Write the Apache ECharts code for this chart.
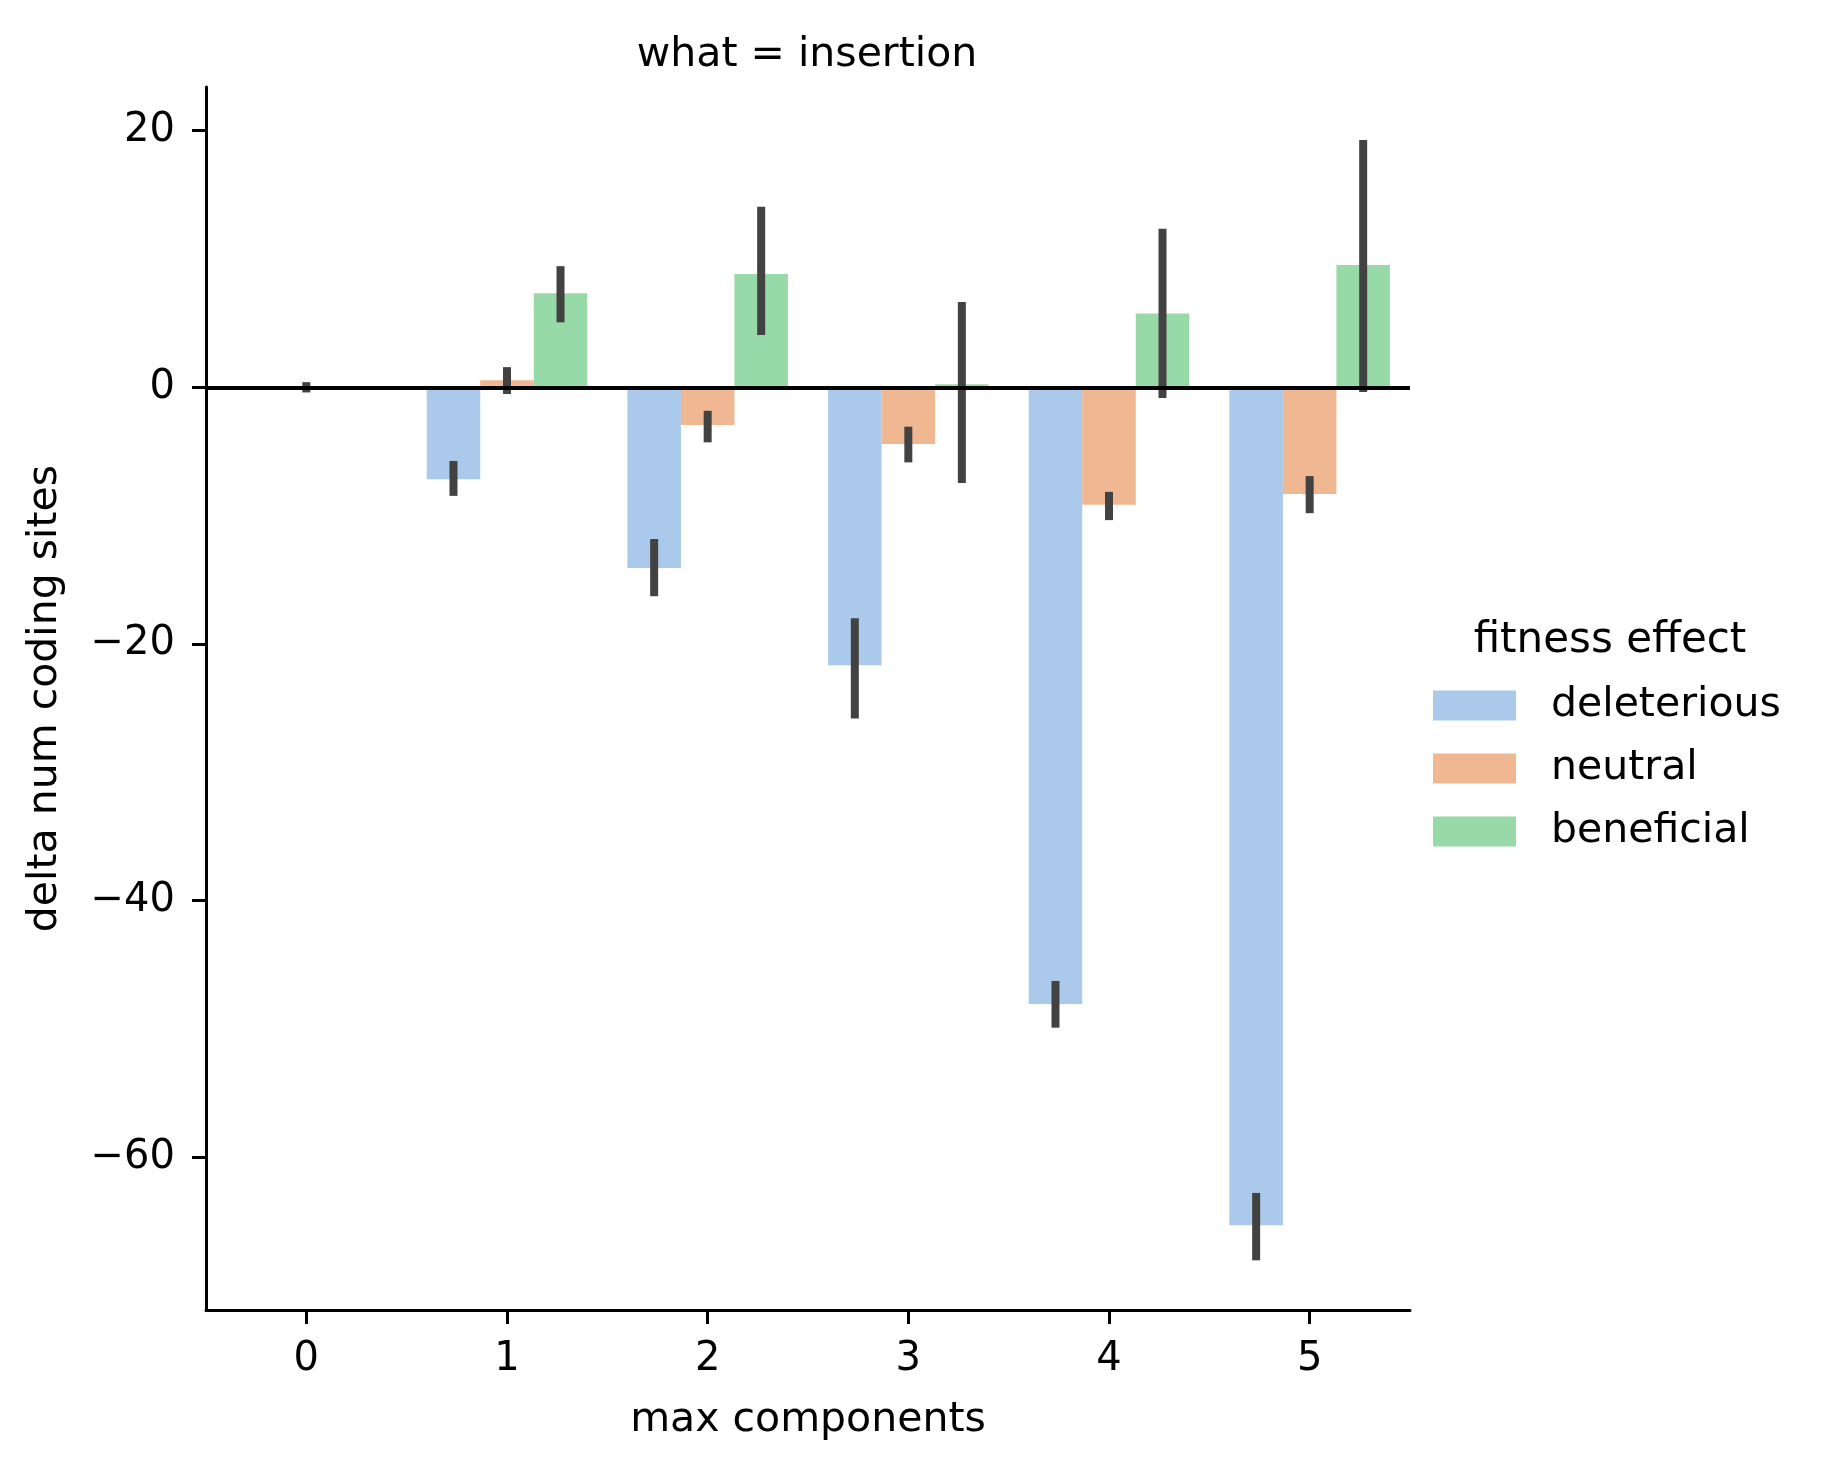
<!DOCTYPE html>
<html>
<head>
<meta charset="utf-8">
<script src="https://cdn.jsdelivr.net/npm/echarts@6/dist/echarts.min.js"></script>
<style>
  html, body { margin: 0; padding: 0; background: #fff; }
  #chart { width: 1821px; height: 1470px; }
</style>
</head>
<body>
<div id="chart"></div>
<script>
// max components
var categories = ['0', '1', '2', '3', '4', '5'];
var hues = ['deleterious', 'neutral', 'beneficial'];

// mean delta per hue (null = no data)
var deleterious = [null, -7.17, -14.08, -21.65, -48.05, -65.29];
var neutral = [0, 0.55, -2.94, -4.42, -9.16, -8.32];
var beneficial = [null, 7.33, 8.83, 0.23, 5.75, 9.52];

// confidence intervals
var deleteriousLow = [null, -8.46, -16.28, -25.8, -49.9, -68.03];
var deleteriousHigh = [null, -5.74, -11.82, -18.0, -46.26, -62.78];
var neutralLow = [-0.4, -0.52, -4.29, -5.85, -10.35, -9.81];
var neutralHigh = [0.4, 1.57, -1.83, -3.07, -8.15, -6.92];
var beneficialLow = [null, 5.06, 4.07, -7.46, -0.83, -0.36];
var beneficialHigh = [null, 9.44, 14.06, 6.65, 12.35, 19.27];

var yTicks = [-60, -40, -20, 0, 20];

var colors = ['#abc9ea', '#efb792', '#98daa7'];
var font = 'DejaVu Sans';

function toBar(arr) {
    return arr.map(function (v) { return v === null ? '-' : v; });
}
function toErr(lo, hi) {
    var out = [];
    lo.forEach(function (v, i) {
        if (v !== null) out.push([i, v, hi[i]]);
    });
    return out;
}

// draw one error bar, shifted to the dodge position of the hue
function errRender(offset) {
    return function (params, api) {
        var c = api.value(0);
        var p1 = api.coord([c, api.value(1)]);
        var p2 = api.coord([c, api.value(2)]);
        var w = api.size([1, 0])[0];
        var x = p1[0] + offset * w;
        return {
            type: 'line',
            shape: { x1: x, y1: p1[1], x2: x, y2: p2[1] },
            style: { stroke: '#424242', lineWidth: 8 }
        };
    };
}

var barSeries = [deleterious, neutral, beneficial].map(function (d, i) {
    return {
        name: hues[i],
        type: 'bar',
        data: toBar(d),
        barGap: '0%',
        barCategoryGap: '20%',
        itemStyle: { color: colors[i] },
        z: 2
    };
});

var errs = [
    toErr(deleteriousLow, deleteriousHigh),
    toErr(neutralLow, neutralHigh),
    toErr(beneficialLow, beneficialHigh)
];
var offsets = [-0.8 / 3, 0, 0.8 / 3];
var errSeries = errs.map(function (d, i) {
    return {
        type: 'custom',
        data: d,
        renderItem: errRender(offsets[i]),
        encode: { x: 0, y: [1, 2] },
        z: 3,
        silent: true
    };
});
// zero line across the whole panel
errSeries[2].markLine = {
    silent: true,
    symbol: 'none',
    label: { show: false },
    lineStyle: { color: '#000', width: 4, type: 'solid' },
    data: [{ yAxis: 0 }]
};

var chart = echarts.init(document.getElementById('chart'));
chart.setOption({
    animation: false,
    backgroundColor: '#fff',
    textStyle: { fontFamily: font },
    title: [{
        text: 'what = insertion',
        left: 802,
        top: 30,
        textAlign: 'center',
        textStyle: { fontSize: 41, fontWeight: 'normal', color: '#000', fontFamily: font }
    }, {
        text: 'fitness effect',
        left: 1605,
        top: 615,
        textAlign: 'center',
        textStyle: { fontSize: 42, fontWeight: 'normal', color: '#000', fontFamily: font }
    }],
    legend: {
        data: hues,
        orient: 'vertical',
        left: 1428,
        top: 680,
        itemWidth: 83,
        itemHeight: 30,
        itemGap: 22,
        icon: 'rect',
        textStyle: { fontSize: 41, color: '#000', fontFamily: font, padding: [0, 0, 0, 30] }
    },
    grid: { left: 206, right: 411, top: 87, bottom: 160, containLabel: false },
    xAxis: {
        type: 'category',
        data: categories,
        name: 'max components',
        nameLocation: 'middle',
        nameGap: 90,
        nameTextStyle: { fontSize: 41, color: '#000', fontFamily: font },
        axisLine: { onZero: false, lineStyle: { color: '#000', width: 3 } },
        axisTick: { show: true, alignWithLabel: true, length: 14, lineStyle: { color: '#000', width: 3 } },
        axisLabel: { fontSize: 40, color: '#000', margin: 30, fontFamily: font },
        splitLine: { show: false }
    },
    yAxis: {
        type: 'value',
        min: -71.9,
        max: 23.4,
        name: 'delta num coding sites',
        nameLocation: 'middle',
        nameGap: 140,
        nameTextStyle: { fontSize: 41, color: '#000', fontFamily: font },
        axisLine: { show: true, lineStyle: { color: '#000', width: 3 } },
        axisTick: { show: true, length: 14, customValues: yTicks, lineStyle: { color: '#000', width: 3 } },
        axisLabel: {
            fontSize: 40, color: '#000', margin: 31, fontFamily: font,
            customValues: yTicks,
            formatter: function (v) { return v < 0 ? '\u2212' + Math.abs(v) : String(v); }
        },
        splitLine: { show: false }
    },
    series: barSeries.concat(errSeries)
});
</script>
</body>
</html>
